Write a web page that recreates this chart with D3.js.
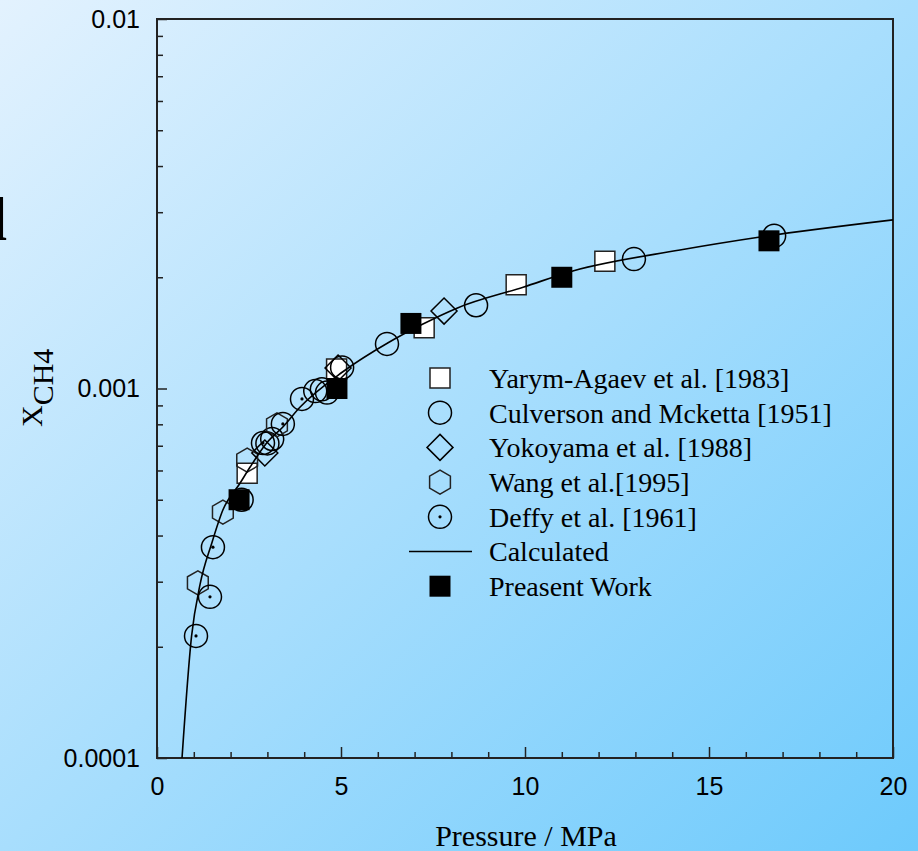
<!DOCTYPE html>
<html>
<head>
<meta charset="utf-8">
<script src="https://cdn.jsdelivr.net/npm/d3@7"></script>
<style>
  body { margin: 0; }
  svg { display: block; }
</style>
</head>
<body>
<div id="chart"></div>
<script>

// data: pressure (MPa) and CH4 mole fraction
var presentP = [2.23, 4.89, 6.90, 11.0, 16.63];
var presentX = [5.0e-4, 1.0e-3, 1.5e-3, 2.0e-3, 2.51e-3];

var yarymP = [2.45, 4.88, 7.26, 9.76, 12.17];
var yarymX = [5.9e-4, 1.13e-3, 1.46e-3, 1.91e-3, 2.21e-3];

var culversonP = [2.3, 3.0, 3.13, 4.3, 4.48, 4.62, 5.03, 6.25, 8.67, 12.96, 16.77];
var culversonX = [5.0e-4, 7.1e-4, 7.3e-4, 9.84e-4, 9.95e-4, 9.75e-4, 1.14e-3, 1.32e-3, 1.68e-3, 2.24e-3, 2.59e-3];

var yokoyamaP = [2.93, 4.92, 7.8];
var yokoyamaX = [6.69e-4, 1.136e-3, 1.62e-3];

var wangP = [1.11, 1.79, 2.45, 3.26];
var wangX = [2.98e-4, 4.63e-4, 6.4e-4, 7.97e-4];

var deffyP = [1.06, 1.44, 1.52, 2.88, 3.42, 3.94];
var deffyX = [2.14e-4, 2.73e-4, 3.72e-4, 7.12e-4, 8.02e-4, 9.37e-4];

var calcP = [0.68, 0.94, 1.17, 1.49, 1.79, 2.26, 2.53, 2.98, 3.42, 3.89, 5.05, 6.28, 7.2, 8.15, 9.95, 11.3, 14.21, 16.39, 20];
var calcX = [1.0e-4, 2.14e-4, 2.95e-4, 3.82e-4, 4.69e-4, 5.55e-4, 6.13e-4, 7.12e-4, 7.87e-4, 8.91e-4, 1.11e-3, 1.33e-3, 1.49e-3, 1.65e-3, 1.88e-3, 2.08e-3, 2.37e-3, 2.57e-3, 2.86e-3];

var xMajorTicks = [0, 5, 10, 15, 20];
var yMajorTicks = [1e-4, 1e-3, 1e-2];
var yTickLabels = ["0.0001", "0.001", "0.01"];

var legendLabels = ["Yarym-Agaev et al. [1983]", "Culverson and Mcketta [1951]", "Yokoyama et al. [1988]",
                    "Wang et al.[1995]", "Deffy et al. [1961]", "Calculated", "Preasent Work"];

var width = 918,
    height = 851,
    plotL = 157, plotT = 19, plotR = 893, plotB = 758;

var svg = d3.select('#chart')
  .append('svg')
  .attr('width', width)
  .attr('height', height);

var defs = svg.append('defs');
var grad = defs.append('linearGradient')
  .attr('id', 'bg')
  .attr('x1', 0).attr('y1', 0).attr('x2', 1).attr('y2', 1);
grad.append('stop').attr('offset', '0%').attr('stop-color', '#e3f2fe');
grad.append('stop').attr('offset', '100%').attr('stop-color', '#6dcafc');

defs.append('clipPath').attr('id', 'plot')
  .append('rect')
  .attr('x', plotL).attr('y', plotT)
  .attr('width', plotR - plotL).attr('height', plotB - plotT);

svg.append('rect')
  .attr('width', width).attr('height', height)
  .attr('fill', 'url(#bg)');

// clipped glyph at the left edge
svg.append('text')
  .attr('x', -10).attr('y', 240)
  .style('font-family', '"Liberation Serif", serif')
  .style('font-size', '62px')
  .style('font-weight', 'bold')
  .text('l');

var x = d3.scaleLinear().domain([0, 20]).range([plotL, plotR]);
var y = d3.scaleLog().domain([1e-4, 1e-2]).range([plotB, plotT]);

var tickFont = '"Liberation Sans", Arial, sans-serif';

// x axis: minor ticks each MPa, major every 5
var xMinor = d3.range(0, 21).filter(function(v) { return v % 5 !== 0; });
svg.append('g')
  .attr('transform', 'translate(0,' + plotB + ')')
  .call(d3.axisBottom(x).tickValues(xMinor).tickSize(-6).tickFormat(''))
  .call(function(g) { g.select('.domain').remove(); });

svg.append('g')
  .attr('transform', 'translate(0,' + plotB + ')')
  .call(d3.axisBottom(x).tickValues(xMajorTicks).tickSize(-11).tickPadding(19).tickFormat(d3.format('d')))
  .call(function(g) {
    g.select('.domain').remove();
    g.selectAll('text').style('font-family', tickFont).style('font-size', '25px').attr('fill', '#000');
  });

// y axis: log minor ticks
var yMinor = [];
[1e-4, 1e-3].forEach(function(b) {
  for (var k = 2; k <= 9; k++) yMinor.push(b * k);
});
svg.append('g')
  .attr('transform', 'translate(' + plotL + ',0)')
  .call(d3.axisLeft(y).tickValues(yMinor).tickSize(-6).tickFormat(''))
  .call(function(g) { g.select('.domain').remove(); });

svg.append('g')
  .attr('transform', 'translate(' + plotL + ',0)')
  .call(d3.axisLeft(y).tickValues(yMajorTicks).tickSize(-10).tickPadding(17)
    .tickFormat(function(d, i) { return yTickLabels[i]; }))
  .call(function(g) {
    g.select('.domain').remove();
    g.selectAll('text').style('font-family', tickFont).style('font-size', '25px').attr('fill', '#000');
  });

svg.selectAll('.tick line').attr('stroke', '#222').attr('stroke-width', 1.5);

svg.append('rect')
  .attr('x', plotL).attr('y', plotT)
  .attr('width', plotR - plotL).attr('height', plotB - plotT)
  .attr('fill', 'none')
  .attr('stroke', '#222')
  .attr('stroke-width', 2);

// marker shapes
function squarePath(s) {
  var h = s / 2;
  return 'M' + (-h) + ',' + (-h) + 'H' + h + 'V' + h + 'H' + (-h) + 'Z';
}
function diamondPath(r) {
  return 'M0,' + (-r) + 'L' + r + ',0L0,' + r + 'L' + (-r) + ',0Z';
}
function hexPath(r) {
  var pts = d3.range(6).map(function(i) {
    var a = Math.PI / 2 + i * Math.PI / 3;
    return [r * Math.cos(a), -r * Math.sin(a)];
  });
  return 'M' + pts.join('L') + 'Z';
}

var markers = {
  yarym: function(g) {
    g.append('path').attr('d', squarePath(20)).attr('fill', '#fff').attr('stroke', '#222').attr('stroke-width', 1.5);
  },
  culverson: function(g) {
    g.append('circle').attr('r', 11.5).attr('fill', 'none').attr('stroke', '#000').attr('stroke-width', 1.5);
  },
  yokoyama: function(g) {
    g.append('path').attr('d', diamondPath(13)).attr('fill', 'none').attr('stroke', '#000').attr('stroke-width', 1.5);
  },
  wang: function(g) {
    g.append('path').attr('d', hexPath(12)).attr('fill', 'none').attr('stroke', '#222').attr('stroke-width', 1.5);
  },
  deffy: function(g) {
    g.append('circle').attr('r', 11.5).attr('fill', 'none').attr('stroke', '#000').attr('stroke-width', 1.5);
    g.append('circle').attr('r', 1.6).attr('fill', '#000');
  },
  present: function(g) {
    g.append('path').attr('d', squarePath(21)).attr('fill', '#000');
  }
};

var plot = svg.append('g').attr('clip-path', 'url(#plot)');

function drawSeries(ps, xs, kind) {
  plot.append('g').selectAll('g')
    .data(d3.zip(ps, xs))
    .enter()
    .append('g')
    .attr('transform', function(d) { return 'translate(' + x(d[0]) + ',' + y(d[1]) + ')'; })
    .each(function() { markers[kind](d3.select(this)); });
}

drawSeries(yarymP, yarymX, 'yarym');
drawSeries(culversonP, culversonX, 'culverson');
drawSeries(yokoyamaP, yokoyamaX, 'yokoyama');
drawSeries(wangP, wangX, 'wang');
drawSeries(deffyP, deffyX, 'deffy');

var line = d3.line()
  .x(function(d) { return x(d[0]); })
  .y(function(d) { return y(d[1]); })
  .curve(d3.curveMonotoneX);

plot.append('path')
  .datum(d3.zip(calcP, calcX))
  .attr('d', line)
  .attr('fill', 'none')
  .attr('stroke', '#000')
  .attr('stroke-width', 1.6);

drawSeries(presentP, presentX, 'present');

// legend
var legendKinds = ['yarym', 'culverson', 'yokoyama', 'wang', 'deffy', 'line', 'present'];
var legend = svg.append('g').attr('transform', 'translate(440,378)');
legendKinds.forEach(function(k, i) {
  var row = legend.append('g').attr('transform', 'translate(0,' + (i * 34.7) + ')');
  if (k === 'line') {
    row.append('line').attr('x1', -31).attr('x2', 32).attr('stroke', '#000').attr('stroke-width', 1.3);
  } else {
    markers[k](row);
  }
  row.append('text')
    .attr('x', 49).attr('dy', '0.35em')
    .style('font-family', '"Liberation Serif", "Times New Roman", serif')
    .style('font-size', '28px')
    .text(legendLabels[i]);
});

// axis titles
svg.append('text')
  .attr('x', 526).attr('y', 846)
  .attr('text-anchor', 'middle')
  .style('font-family', '"Liberation Serif", "Times New Roman", serif')
  .style('font-size', '30px')
  .text('Pressure / MPa');

var yt = svg.append('text')
  .attr('transform', 'translate(42,427) rotate(-90)')
  .style('font-family', '"Liberation Serif", "Times New Roman", serif')
  .style('font-size', '30px');
yt.append('tspan').text('X');
yt.append('tspan').attr('dy', 11).text('CH4');

</script>
</body>
</html>
